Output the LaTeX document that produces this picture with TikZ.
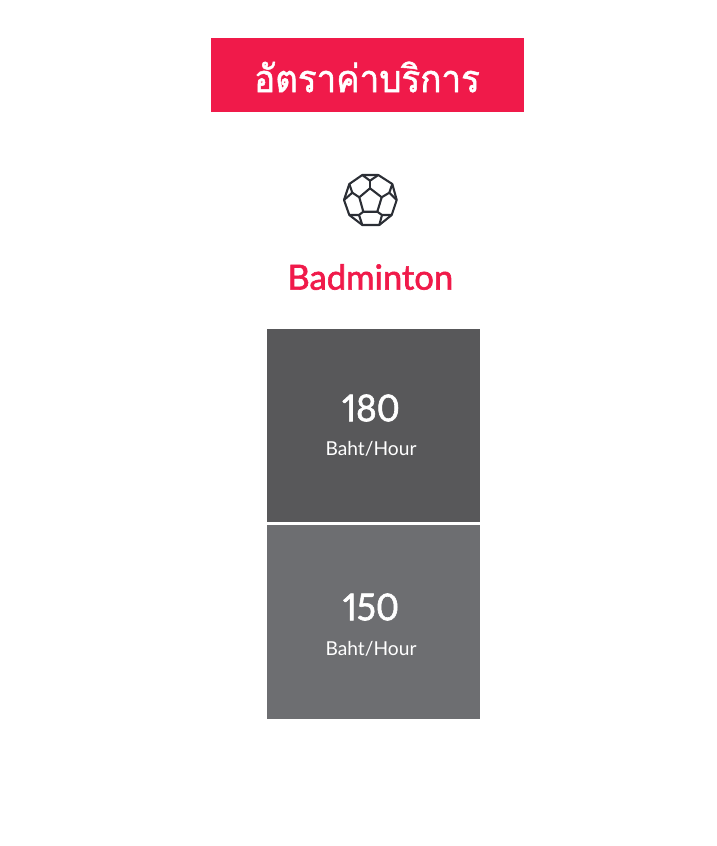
\documentclass[tikz,border=0pt]{standalone}
\usepackage{fontspec}
\setmainfont{Lato}
\newfontfamily\thaifont[Script=Thai,FakeStretch=0.92,FakeBold=1.4]{Loma}
\newfontfamily\numfont[Numbers={Proportional,Lining},FakeStretch=0.95,FakeBold=1.6]{Lato}
\newfontfamily\sportfont[FakeBold=1.8]{Lato}
\definecolor{rosered}{HTML}{F01A4A}
\definecolor{darkgrey}{HTML}{58585A}
\definecolor{midgrey}{HTML}{6D6E71}
\definecolor{ballline}{HTML}{2B2E35}
\tikzset{
  pricebox/.style={draw=none, minimum width=213pt, minimum height=193.5pt, inner sep=0pt, outer sep=0pt},
  pricetext/.style={text=white, font=\numfont\fontsize{37}{37}\selectfont, inner sep=0pt},
  unittext/.style={text=white, font=\fontsize{19.2}{20}\selectfont, inner sep=0pt},
  ball/.style={draw=ballline, line width=2.1pt, line join=round}
}
\begin{document}
\begin{tikzpicture}[x=1pt, y=-1pt]
\useasboundingbox (0,0) rectangle (716,846);

\node[fill=rosered, minimum width=313pt, minimum height=74pt, inner sep=0pt] (title) at (367.2,74.7) {};
\node[text=white, inner sep=0pt, font=\thaifont\fontsize{38}{38}\selectfont] (titletext) at (367,77) {อัตราค่าบริการ};

\draw[ball] (362.3,175) -- (378.3,175) -- (392.3,184) -- (396.7,200) -- (391.7,215) -- (379.3,225) -- (362.3,225) -- (349.3,215) -- (344,200) -- (349.3,184) -- cycle;
\draw[ball] (370,188.3) -- (381.7,197.3) -- (377.3,211.7) -- (363.3,211.7) -- (359.3,197.3) -- cycle;
\draw[ball] (362.3,175) -- (370,180.7) -- (378.3,175);
\draw[ball] (370,180.7) -- (370,188.3);
\draw[ball] (392.3,184) -- (389.3,192.7) -- (396.7,200);
\draw[ball] (389.3,192.7) -- (381.7,197.3);
\draw[ball] (349.3,184) -- (352.3,192.7) -- (344,200);
\draw[ball] (352.3,192.7) -- (359.3,197.3);
\draw[ball] (349.3,215) -- (359,215) -- (363.3,211.7);
\draw[ball] (391.7,215) -- (382,215) -- (377.3,211.7);
\draw[ball] (359,215) -- (362.3,225);
\draw[ball] (382,215) -- (379.3,225);

\node[text=rosered, inner sep=0pt, font=\sportfont\fontsize{34.6}{35}\selectfont] (sport) at (370.3,277) {Badminton};

\node[pricebox, fill=darkgrey] (upper) at (373.5,425.5) {};
\node[pricebox, fill=midgrey] (lower) at (373.5,621.8) {};

\node[pricetext] (upperprice) at (371,408) {180};
\node[unittext] (upperunit) at (371,449) {Baht/Hour};
\node[pricetext] (lowerprice) at (371,607) {150};
\node[unittext] (lowerunit) at (371,649) {Baht/Hour};
\end{tikzpicture}
\end{document}
